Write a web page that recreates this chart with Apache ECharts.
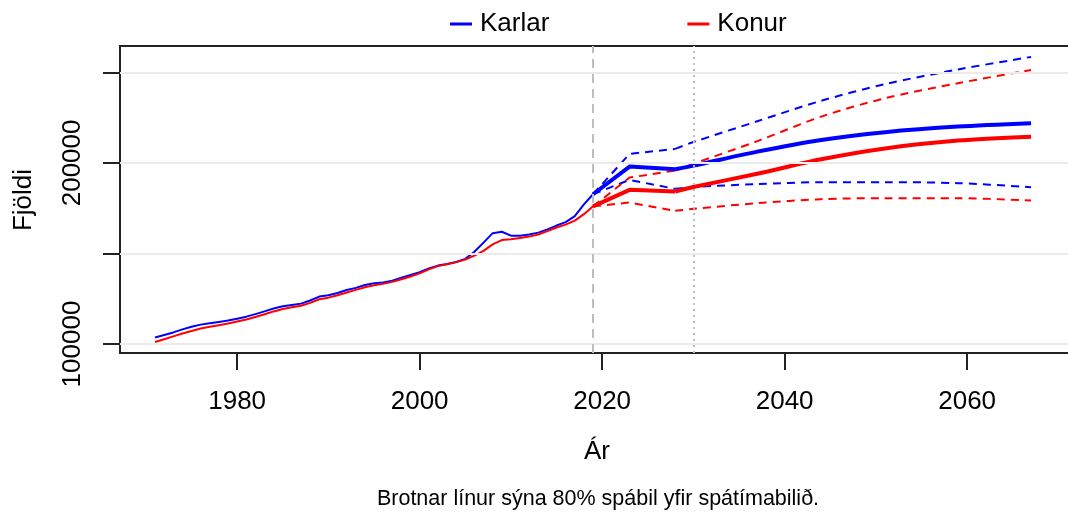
<!DOCTYPE html>
<html>
<head>
<meta charset="utf-8">
<script src="https://cdn.jsdelivr.net/npm/echarts@6/dist/echarts.min.js"></script>
<style>
html,body{margin:0;padding:0;background:#fff;}
#chart{width:1068px;height:515px;}
</style>
</head>
<body>
<div id="chart"></div>
<script>
// ---- data ----
const histYears = [1971,1972,1973,1974,1975,1976,1977,1978,1979,1980,1981,1982,1983,1984,1985,1986,1987,1988,1989,1990,1991,1992,1993,1994,1995,1996,1997,1998,1999,2000,2001,2002,2003,2004,2005,2006,2007,2008,2009,2010,2011,2012,2013,2014,2015,2016,2017,2018,2019];
const histMales = [103600,105000,106400,108100,109500,110700,111500,112200,113000,114000,115100,116500,118000,119600,120800,121600,122300,124000,126200,126900,128200,129800,131000,132600,133500,134000,135000,136600,138100,139700,141700,143300,144200,145300,147000,150900,156000,161200,162000,159800,159800,160500,161500,163300,165400,167300,170600,177100,182700];
const histFemales = [101100,102600,104200,105800,107200,108600,109500,110400,111300,112400,113500,114900,116400,118000,119300,120300,121100,122700,124700,125600,126900,128400,129900,131300,132400,133200,134300,135800,137300,139000,141200,143000,144000,145200,146600,148800,151400,155000,157400,157800,158500,159300,160500,162300,164300,165900,168100,171700,176000];

const fcYears = [2019,2023,2028,2030,2037,2044,2051,2059,2067];
const malesMedian = [182700,197960,196530,198500,206240,212690,216940,220030,221900];
const malesUpper  = [182700,204970,207730,211500,223000,234300,243500,251600,258500];
const malesLower  = [182700,190630,185660,186700,188260,189360,189360,188810,186600];
const femalesMedian = [176000,185110,184170,186700,194000,202000,208000,212300,214500];
const femalesUpper  = [176000,191900,195760,199500,212000,225540,235690,244000,251300];
const femalesLower  = [176000,178110,173530,174630,177780,179980,180530,180530,179210];

const xTicks = [1980,2000,2020,2040,2060];
const yTicks = [100000,150000,200000,250000];
const yLabels = [100000,200000];
const forecastStart = 2019;
const forecastHorizon = 2030;

const seriesNames = ['Karlar','Konur'];
const axisTitleX = 'Ár';
const axisTitleY = 'Fjöldi';
const caption = 'Brotnar línur sýna 80% spábil yfir spátímabilið.';

// ---- helpers ----
const zip = (xs, ys) => xs.map((x, i) => [x, ys[i]]);
const FONT = '"Liberation Sans", Arial, Helvetica, sans-serif';
const BLUE = '#0000FF', RED = '#FF0000';
const KINK = fcYears.indexOf(2028);

function lineSeries(name, xs, ys, color, width, type, z, smooth) {
  return {
    name: name, type: 'line', data: zip(xs, ys), showSymbol: false, symbol: 'none',
    smooth: smooth || false,
    lineStyle: {color: color, width: width, type: type, cap: 'butt', join: 'round'},
    itemStyle: {color: color}, z: z, silent: true, animation: false,
    emphasis: {disabled: true}
  };
}
// forecast: straight to 2028, smooth afterwards
function forecast(name, ys, color, width, type, z) {
  return [
    lineSeries(name, fcYears.slice(0, KINK + 1), ys.slice(0, KINK + 1), color, width, type, z, false),
    lineSeries(name, fcYears.slice(KINK), ys.slice(KINK), color, width, type, z, 0.3)
  ];
}

const chart = echarts.init(document.getElementById('chart'), null, {renderer: 'canvas'});

const GRID_W = 975;
const option = {
  backgroundColor: '#fff',
  animation: false,
  textStyle: {fontFamily: FONT},
  grid: {
    left: 120, top: 46, width: GRID_W, height: 307,
    outerBoundsMode: 'none', containLabel: false,
    show: true, borderColor: '#222', borderWidth: 2, backgroundColor: 'transparent'
  },
  legend: {
    data: seriesNames.map((n, i) => ({name: n, icon: 'rect', itemStyle: {color: i === 0 ? BLUE : RED}})),
    left: 445, top: 6, itemWidth: 22, itemHeight: 3, itemGap: 138,
    textStyle: {fontSize: 26, color: '#000', fontFamily: FONT, padding: [0,0,0,3]},
    selectedMode: false
  },
  xAxis: {
    type: 'value', min: 1967.16, max: 1967.16 + GRID_W / 9.125,
    axisLine: {show: false},
    splitLine: {show: false},
    axisTick: {show: true, length: 17, inside: false, lineStyle: {color: '#222', width: 2}, customValues: xTicks},
    axisLabel: {show: true, customValues: xTicks, fontSize: 26, color: '#000', margin: 36, fontFamily: FONT,
      formatter: v => String(v)}
  },
  yAxis: {
    type: 'value', min: 95036, max: 264540,
    axisLine: {show: false},
    splitLine: {show: false},
    axisTick: {show: true, length: 17, inside: false, lineStyle: {color: '#222', width: 2}, customValues: yTicks},
    axisLabel: {show: true, customValues: yLabels, rotate: 90, fontSize: 26, color: '#000', margin: 34, fontFamily: FONT,
      formatter: v => String(v)}
  },
  graphic: [
    {type: 'text', x: 24, y: 200, rotation: Math.PI / 2, silent: true,
     style: {text: axisTitleY, font: '26px ' + FONT, fill: '#000', align: 'center', verticalAlign: 'middle'}},
    {type: 'text', x: 597, y: 452, silent: true,
     style: {text: axisTitleX, font: '26px ' + FONT, fill: '#000', align: 'center', verticalAlign: 'middle'}},
    {type: 'text', x: 598, y: 499, silent: true,
     style: {text: caption, font: '21.5px ' + FONT, fill: '#000', align: 'center', verticalAlign: 'middle'}}
  ],
  series: [
    {
      name: 'guides', type: 'line', data: [], silent: true, z: 1,
      markLine: {
        silent: true, symbol: 'none', animation: false,
        label: {show: false}, emphasis: {disabled: true},
        data: [
          ...yTicks.map(v => ({yAxis: v, lineStyle: {color: '#EBEBEB', width: 2, type: 'solid'}})),
          {xAxis: forecastStart, lineStyle: {color: '#BEBEBE', width: 2, type: [9, 6]}},
          {xAxis: forecastHorizon, lineStyle: {color: '#BEBEBE', width: 2, type: [2, 4]}}
        ]
      }
    },
    lineSeries('Karlar', histYears, histMales, BLUE, 2, 'solid', 3),
    lineSeries('Konur', histYears, histFemales, RED, 2, 'solid', 3),
    ...forecast('Karlar', malesUpper, BLUE, 2, [8, 6], 3),
    ...forecast('Karlar', malesLower, BLUE, 2, [8, 6], 3),
    ...forecast('Konur', femalesUpper, RED, 2, [8, 6], 3),
    ...forecast('Konur', femalesLower, RED, 2, [8, 6], 3),
    ...forecast('Karlar', malesMedian, BLUE, 4, 'solid', 4),
    ...forecast('Konur', femalesMedian, RED, 4, 'solid', 4)
  ]
};
chart.setOption(option);
</script>
</body>
</html>
